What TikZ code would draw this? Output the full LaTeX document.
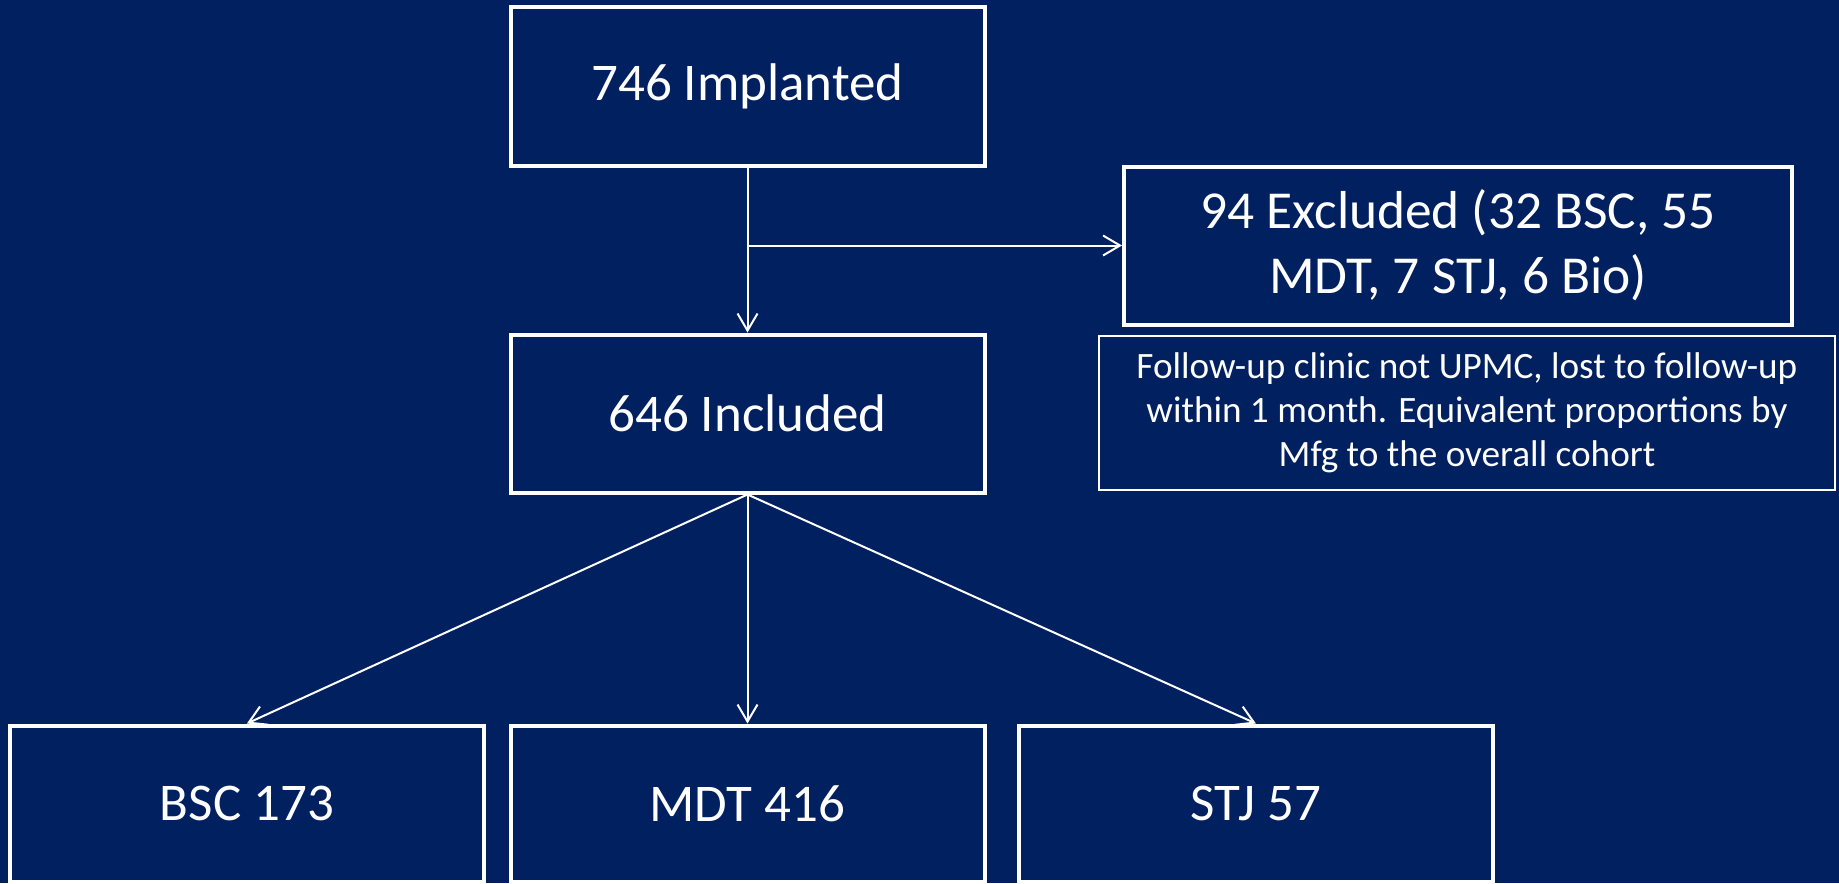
\documentclass[tikz,border=0pt]{standalone}
\usepackage{fontspec}
\setmainfont{Carlito}
\usepackage{tikz}
\usetikzlibrary{positioning, arrows.meta}
\usepackage{xcolor}
\definecolor{slideblue}{RGB}{0,32,96}

\begin{document}
\begin{tikzpicture}[x=0.5pt, y=0.5pt,
    flow_box/.style={rectangle, draw=white, line width=2pt, fill=slideblue, text=white,
        inner sep=0pt, minimum width=237pt, minimum height=79pt, align=center,
        font=\fontsize{26.5}{32}\selectfont},
    note_box/.style={rectangle, draw=white, line width=0.75pt, fill=slideblue, text=white,
        inner sep=0pt, minimum width=368pt, minimum height=77pt, align=center,
        font=\fontsize{18.6}{22}\selectfont},
    flow_arrow/.style={draw=white, line width=1pt, -{Straight Barb[length=8.5pt, width=10pt]}}]

    % Background
    \fill[slideblue] (0,0) rectangle (1839,-883);
    \useasboundingbox (0,0) rectangle (1839,-883);

    % Top of the flow
    \node[flow_box] (implanted) at (747.5,-86.5) {746 Implanted};
    \node[flow_box, below=82.5pt of implanted] (included) {646 Included};

    % Exclusions
    \node[flow_box, minimum width=334pt, font=\fontsize{26.7}{32.5}\selectfont] (excluded) at (1458,-245.5)
        {94 Excluded (32 BSC, 55\\MDT, 7 STJ, 6 Bio)};
    \node[note_box] (note) at (1467,-413)
        {Follow-up clinic not UPMC, lost to follow-up\\within 1 month. Equivalent proportions by\\Mfg to the overall cohort};
    \coordinate (branch) at (implanted.south |- excluded.west);
    \draw[flow_arrow] (implanted) -- (included);
    \draw[flow_arrow] (branch) -- (excluded.west);

    % Manufacturers
    \node[flow_box, below=114.5pt of included, minimum height=78pt] (mdt) {MDT 416};
    \node[flow_box, left=11.3pt of mdt, minimum height=78pt] (bsc) {BSC 173};
    \node[flow_box, right=15.2pt of mdt, minimum height=78pt] (stj) {STJ 57};
    \draw[flow_arrow] (included.south) -- (bsc.north);
    \draw[flow_arrow] (included.south) -- (mdt.north);
    \draw[flow_arrow] (included.south) -- (stj.north);

\end{tikzpicture}
\end{document}
